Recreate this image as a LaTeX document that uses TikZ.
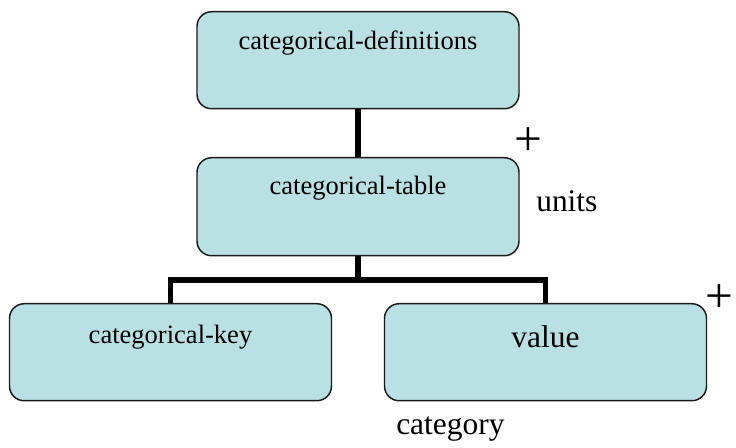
\documentclass[tikz,border=0pt]{standalone}
\usepackage{fontspec}
\setmainfont{Liberation Serif}
\usetikzlibrary{positioning, calc}
\usepackage{xcolor}
\definecolor{boxfill}{HTML}{B9E0E3}
\definecolor{boxline}{HTML}{1A1A1A}

\begin{document}
\begin{tikzpicture}[x=0.75pt, y=-0.75pt,
  element/.style={draw=boxline, line width=1.1pt, fill=boxfill, rounded corners=11pt,
    inner sep=0pt, minimum width=241.5pt, anchor=north, font=\fontsize{19.9}{22}\selectfont},
  link/.style={line width=3.8pt, line join=miter},
  note/.style={anchor=base west, inner sep=0pt, font=\fontsize{23.6}{26}\selectfont},
  plus/.style={anchor=center, inner sep=0pt, font=\fontsize{37}{40}\selectfont}]
  \useasboundingbox (0,0) rectangle (736,448);

  % Elements
  \node[element, text height=28.5pt, text depth=44.25pt] (defs) at (358,11) {categorical-definitions};
  \node[element, text height=27.75pt, text depth=45.75pt] (table) at (358,157) {categorical-table};
  \node[element, text height=30pt, text depth=42.75pt] (key) at (170.5,303) {categorical-key};
  \node[element, text height=33pt, text depth=39.75pt, font=\fontsize{23.6}{26}\selectfont] (value) at (545.5,303) {value};

  % Connectors
  \coordinate (fork) at (358,280);
  \draw[link] (defs.south) -- (table.north);
  \draw[link] (table.south) -- (fork) -| (key.north);
  \draw[link] (fork) -| (value.north);

  % Notes
  \node[plus] (plusa) at (528,142) {+};
  \node[note] (units) at (536,212) {units};
  \node[plus] (plusb) at (719,299) {+};
  \node[note] (category) at (396,435) {category};
\end{tikzpicture}
\end{document}
